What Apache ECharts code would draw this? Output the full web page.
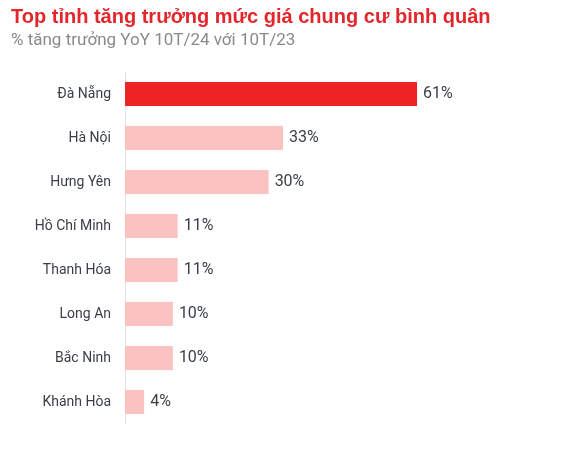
<!DOCTYPE html>
<html><head><meta charset="utf-8">
<script src="https://cdn.jsdelivr.net/npm/echarts@6/dist/echarts.min.js"></script>
<style>html,body{margin:0;padding:0;background:#fff}#c{width:580px;height:450px}</style>
</head><body><div id="c"></div>
<script>
const categories = ['Đà Nẵng','Hà Nội','Hưng Yên','Hồ Chí Minh','Thanh Hóa','Long An','Bắc Ninh','Khánh Hòa'];
const values = [61,33,30,11,11,10,10,4];
const highlight = 'Đà Nẵng';
const chart = echarts.init(document.getElementById('c'));
chart.setOption({
  animation:false,
  backgroundColor:'#fff',
  title:{
    text:'Top tỉnh tăng trưởng mức giá chung cư bình quân',
    subtext:'% tăng trưởng YoY 10T/24 với 10T/23',
    left:6, top:2, itemGap:5,
    textStyle:{fontFamily:'Liberation Sans',fontWeight:'bold',fontSize:20,color:'#e3262b'},
    subtextStyle:{fontFamily:'Roboto',fontSize:17,color:'#8a8a8a'}
  },
  grid:{left:125, top:72, right:72, height:352, containLabel:false},
  xAxis:{type:'value', min:0, max:80, show:false},
  yAxis:{type:'category', data:categories, inverse:true,
    axisLine:{show:true, lineStyle:{color:'#e2e2e2',width:1}},
    axisTick:{show:false},
    axisLabel:{fontFamily:'Roboto',fontSize:14,color:'#3a3f47',margin:14}
  },
  series:[{
    type:'bar', barWidth:24,
    data:values.map((v,i)=>({value:v,itemStyle:{color:categories[i]===highlight?'#ef2426':'#fbc2c2'}})),
    label:{show:true, position:'right', distance:6, formatter:'{c}%', fontFamily:'Roboto', fontSize:16, color:'#3a3f47'}
  }]
});
</script></body></html>
